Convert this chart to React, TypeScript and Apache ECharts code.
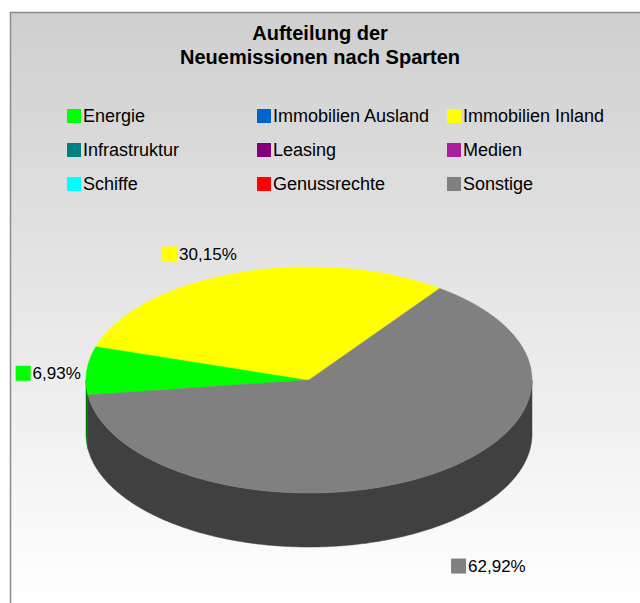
import React, { useEffect, useRef } from 'react';
import * as echarts from 'echarts';

// ---- data ----
const categories = [
  'Energie',
  'Immobilien Ausland',
  'Immobilien Inland',
  'Infrastruktur',
  'Leasing',
  'Medien',
  'Schiffe',
  'Genussrechte',
  'Sonstige',
];
const shares = [6.93, 0, 30.15, 0, 0, 0, 0, 0, 62.92];
const titleText = 'Aufteilung der\nNeuemissionen nach Sparten';

// ---- styles / layout ----
const colors = ['#00ff00', '#0066cc', '#ffff00', '#008080', '#800080', '#a8209e', '#00ffff', '#ff0000', '#808080'];
const legendColumns = [[0, 3, 6], [1, 4, 7], [2, 5, 8]];
const legendLefts = [62, 252, 442];
const FONT = '"Liberation Sans", Arial, sans-serif';
const CX = 309, CY = 380, RX = 223, RY = 113, DEPTH = 54, START = 262.4;

function darken(hex: string) {
  const n = parseInt(hex.slice(1), 16);
  const r = ((n >> 16) & 255) >> 1, g = ((n >> 8) & 255) >> 1, b = (n & 255) >> 1;
  return `rgb(${r},${g},${b})`;
}
function pt(theta: number, dy = 0) {
  const r = (theta * Math.PI) / 180;
  return [CX + RX * Math.sin(r), CY - RY * Math.cos(r) + dy];
}
function arc(a: number, b: number, dy: number) {
  const pts: number[][] = [];
  const n = Math.max(2, Math.ceil(Math.abs(b - a) * 2));
  for (let k = 0; k <= n; k++) pts.push(pt(a + ((b - a) * k) / n, dy));
  return pts;
}

const total = shares.reduce((s, x) => s + x, 0);

const makeRender = (i: number) => (params: any, api: any) => {
  const v = api.value(0);
  if (!v) return { type: 'group', children: [] };
  const before = shares.slice(0, i).reduce((s, x) => s + x, 0);
  const a = START + (before / total) * 360;
  const b = a + (v / total) * 360;
  const color = colors[i];
  const side = darken(color);
  const children: any[] = [];
  for (const [lo, hi] of [[90, 270], [450, 630]]) {
    const s = Math.max(a, lo), e = Math.min(b, hi);
    if (e > s) {
      const pts = arc(s, e, 0).concat(arc(e, s, DEPTH));
      children.push({ type: 'polygon', shape: { points: pts }, style: { fill: side, stroke: side, lineWidth: 0.5 } });
    }
  }
  children.push({
    type: 'polygon',
    shape: { points: [[CX, CY]].concat(arc(a, b, 0)) },
    style: { fill: color, stroke: color, lineWidth: 0.5 },
  });
  // label
  const m = (((a + b) / 2) % 360) * Math.PI / 180;
  const sn = Math.sin(m), cs = Math.cos(m);
  const front = cs < 0;
  const gx = front ? 54 : 6, gy = front ? 40 : 20;
  const ax = CX + (RX + gx) * sn;
  const ay = CY - (RY + gy) * cs + (front ? DEPTH : 0) + (1 - Math.abs(cs)) * 5;
  const align = sn < -0.2 ? 'right' : sn > 0.2 ? 'left' : 'center';
  children.push({
    type: 'text',
    x: ax,
    y: ay,
    style: {
      text: `{i| }{t|${v.toFixed(2).replace('.', ',')}%}`,
      align,
      verticalAlign: 'middle',
      rich: {
        i: { width: 15, height: 15, backgroundColor: color },
        t: { fontSize: 17, fontFamily: FONT, fill: '#000', padding: [0, 0, 0, 2] },
      },
    },
  });
  return { type: 'group', children };
};

export default function App() {
  const ref = useRef<HTMLDivElement>(null);
  useEffect(() => {
    const chart = echarts.init(ref.current!, undefined, { renderer: 'svg' });
    chart.setOption({
      animation: false,
      backgroundColor: '#ffffff',
      title: {
        text: titleText,
        left: 'center',
        top: 16,
        textStyle: { fontSize: 20, fontWeight: 'bold', lineHeight: 24, color: '#000', fontFamily: FONT },
      },
      graphic: [
        {
          type: 'rect',
          z: -10,
          silent: true,
          shape: { x: 10.5, y: 12.5, width: 660, height: 620 },
          style: {
            fill: {
              type: 'linear', x: 0, y: 0, x2: 0, y2: 1,
              colorStops: [
                { offset: 0, color: '#cfcfcf' },
                { offset: 0.95, color: '#ffffff' },
                { offset: 1, color: '#ffffff' },
              ],
            },
            stroke: '#8a8a8a',
            lineWidth: 1.5,
          },
        },
      ],
      legend: legendColumns.map((col, k) => ({
        orient: 'vertical',
        left: legendLefts[k],
        top: 101,
        itemWidth: 14,
        itemHeight: 14,
        itemGap: 14,
        icon: 'rect',
        selectedMode: false,
        data: col.map((j) => categories[j]),
        textStyle: { fontSize: 18, lineHeight: 20, color: '#000', fontFamily: FONT, padding: [0, 0, 0, -3] },
      })),
      series: categories.map((name, i) => ({
        type: 'custom',
        name,
        coordinateSystem: 'none',
        itemStyle: { color: colors[i] },
        data: [[shares[i]]],
        renderItem: makeRender(i),
      })),
    });
    return () => chart.dispose();
  }, []);
  return <div ref={ref} style={{ position: 'absolute', left: 0, top: 0, width: 640, height: 603 }} />;
}
